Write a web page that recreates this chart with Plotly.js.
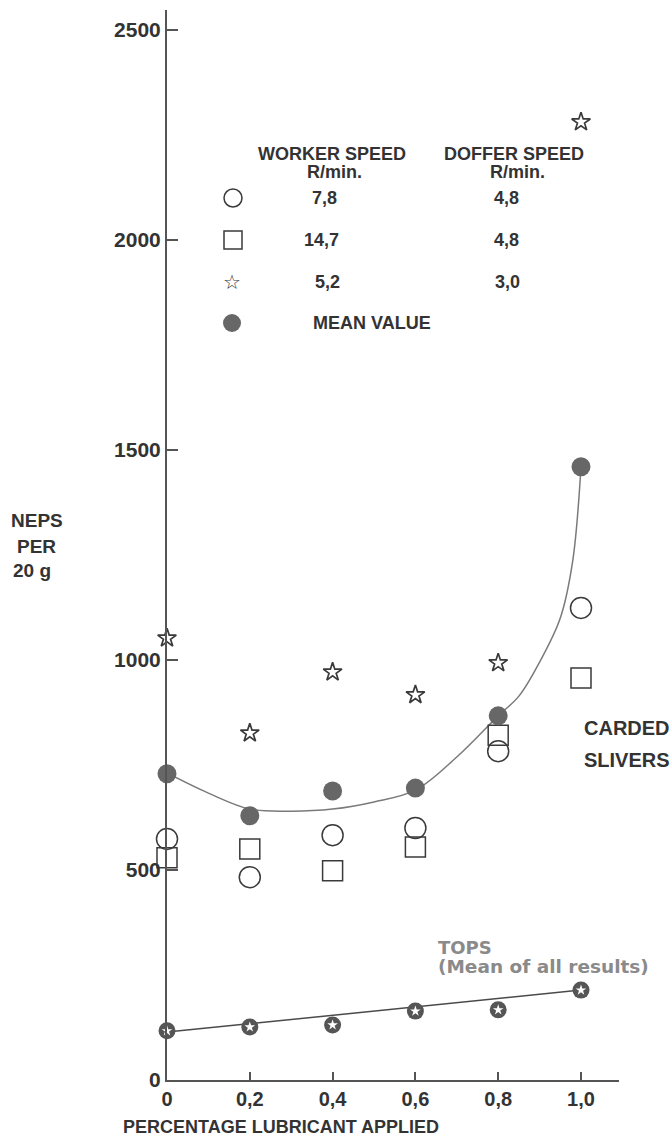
<!DOCTYPE html>
<html>
<head>
<meta charset="utf-8">
<script src="https://cdn.plot.ly/plotly-3.0.1.min.js"></script>
<style>
html,body{margin:0;padding:0;background:#fff;}
#chart{width:672px;height:1143px;}
</style>
</head>
<body>
<div id="chart"></div>
<script>
// ---------- data ----------
const lubricant = [0, 0.2, 0.4, 0.6, 0.8, 1.0];
const xTickLabels = ['0', '0,2', '0,4', '0,6', '0,8', '1,0'];
const yTickVals = [0, 500, 1000, 1500, 2000, 2500];
const yTickLabels = ['0', '500', '1000', '1500', '2000', '2500'];

// Worker 7,8 / Doffer 4,8  (open circles)
const nepsWorker78 = [574, 483, 583, 600, 783, 1124];
// Worker 14,7 / Doffer 4,8 (open squares)
const nepsWorker147 = [529, 550, 498, 555, 821, 957];
// Worker 5,2 / Doffer 3,0 (stars)
const nepsWorker52 = [1052, 826, 971, 917, 993, 2281];
// Mean value (filled circles)
const nepsMean = [729, 629, 688, 695, 867, 1460];

// Hand-drawn fitted curve through the mean values
const meanCurveX = [0, 0.1, 0.2, 0.3, 0.4, 0.5, 0.6, 0.7, 0.8, 0.85, 0.9, 0.95, 0.98, 1.0];
const meanCurveY = [731, 683, 645, 640, 645, 662, 690, 769, 867, 914, 995, 1100, 1236, 1460];

// Tops (mean of all results)
const nepsTops = [117, 126, 131, 164, 167, 214];
const topsLineX = [0, 1.0];
const topsLineY = [114, 214];

// legend table texts
const legendHeader = ['WORKER SPEED', 'DOFFER SPEED'];
const legendUnits = ['R/min.', 'R/min.'];
const workerSpeeds = ['7,8', '14,7', '5,2'];
const dofferSpeeds = ['4,8', '4,8', '3,0'];

// ---------- layout geometry ----------
const W = 672, H = 1143;
const mL = 167, mR = 53, mT = 10, mB = 63;
const plotW = W - mL - mR, plotH = H - mT - mB;
const PX_PER_UNIT_Y = 0.42;
const PX_PER_UNIT_X = 414;
function px(x) { return (x - mL) / plotW; }          // pixel -> paper x
function py(y) { return (H - mB - y) / plotH; }      // pixel -> paper y

const FONT = '"Liberation Sans", Arial, Helvetica, sans-serif';
const WIDE = '"DejaVu Sans", Verdana, sans-serif';
const DARK = '#333333';
const MARK = '#3a3a3a';

const traces = [
  {
    x: meanCurveX, y: meanCurveY, mode: 'lines', type: 'scatter',
    line: {color: '#7a7a7a', width: 1.5, shape: 'spline', smoothing: 1},
    hoverinfo: 'skip', showlegend: false, cliponaxis: false
  },
  {
    x: topsLineX, y: topsLineY, mode: 'lines', type: 'scatter',
    line: {color: '#4a4a4a', width: 1.5},
    hoverinfo: 'skip', showlegend: false, cliponaxis: false
  },
  {
    x: lubricant, y: nepsWorker78, mode: 'markers', type: 'scatter', name: '7,8 / 4,8',
    marker: {symbol: 'circle-open', size: 21, color: MARK, line: {width: 1.5, color: MARK}},
    showlegend: false, cliponaxis: false
  },
  {
    x: lubricant, y: nepsWorker147, mode: 'markers', type: 'scatter', name: '14,7 / 4,8',
    marker: {symbol: 'square-open', size: 20, color: MARK, line: {width: 1.5, color: MARK}},
    showlegend: false, cliponaxis: false
  },
  {
    x: lubricant, y: nepsWorker52, mode: 'markers', type: 'scatter', name: '5,2 / 3,0',
    marker: {symbol: 'star-open', size: 14, color: MARK, line: {width: 1.7, color: MARK}},
    showlegend: false, cliponaxis: false
  },
  {
    x: lubricant, y: nepsMean, mode: 'markers', type: 'scatter', name: 'Mean value',
    marker: {symbol: 'circle', size: 19, color: '#676767', line: {width: 0}},
    showlegend: false, cliponaxis: false
  },
  {
    x: lubricant, y: nepsTops, mode: 'markers', type: 'scatter', name: 'Tops',
    marker: {symbol: 'circle', size: 17, color: '#555555', line: {width: 0}},
    showlegend: false, cliponaxis: false
  },
  {
    x: lubricant, y: nepsTops, mode: 'markers', type: 'scatter', name: 'Tops',
    marker: {symbol: 'star', size: 8, color: '#ffffff', line: {width: 0}},
    showlegend: false, cliponaxis: false, hoverinfo: 'skip'
  }
];

function txt(text, x, y, opts) {
  opts = opts || {};
  return {
    text: text, xref: 'paper', yref: 'paper', x: px(x), y: py(y),
    xanchor: opts.xanchor || 'center', yanchor: 'middle', showarrow: false,
    font: {family: opts.family || FONT, size: opts.size || 18, color: opts.color || DARK,
           weight: opts.weight || 'bold'}
  };
}

const rowY = [198, 240, 282, 323];
const annotations = [
  txt(legendHeader[0], 332, 154),
  txt(legendHeader[1], 514, 154),
  txt(legendUnits[0], 334, 172),
  txt(legendUnits[1], 517, 172),
  txt(workerSpeeds[0], 324, rowY[0]),
  txt(dofferSpeeds[0], 506, rowY[0]),
  txt(workerSpeeds[1], 321, rowY[1]),
  txt(dofferSpeeds[1], 506, rowY[1]),
  txt(workerSpeeds[2], 327, rowY[2]),
  txt(dofferSpeeds[2], 507, rowY[2]),
  txt('MEAN VALUE', 372, rowY[3]),
  txt('☆', 232, rowY[2], {size: 20, family: WIDE, color: MARK, weight: 'normal'}),
  txt('CARDED', 582, 728, {xanchor: 'left', size: 20}),
  txt('SLIVERS', 582, 760, {xanchor: 'left', size: 20}),
  txt('TOPS', 436, 947, {xanchor: 'left', size: 18, color: '#8a8a8a', family: WIDE}),
  txt('(Mean of all results)', 436, 966, {xanchor: 'left', size: 18.5, color: '#8a8a8a', family: WIDE}),
  txt('NEPS', 37, 520, {size: 19}),
  txt('PER', 36, 546, {size: 19}),
  txt('20 g', 11, 570, {xanchor: 'left', size: 19}),
  txt('PERCENTAGE LUBRICANT APPLIED', 281, 1127, {size: 18})
];

const shapes = [
  {type: 'circle', xref: 'paper', yref: 'paper', xsizemode: 'pixel', ysizemode: 'pixel',
   xanchor: px(233), yanchor: py(rowY[0]), x0: -9, x1: 9, y0: -9, y1: 9,
   line: {color: MARK, width: 1.5}, fillcolor: 'rgba(0,0,0,0)'},
  {type: 'rect', xref: 'paper', yref: 'paper', xsizemode: 'pixel', ysizemode: 'pixel',
   xanchor: px(233), yanchor: py(rowY[1]), x0: -9, x1: 9, y0: -9, y1: 9,
   line: {color: MARK, width: 1.5}, fillcolor: 'rgba(0,0,0,0)'},
  {type: 'circle', xref: 'paper', yref: 'paper', xsizemode: 'pixel', ysizemode: 'pixel',
   xanchor: px(232), yanchor: py(rowY[3]), x0: -9, x1: 9, y0: -9, y1: 9,
   line: {width: 0}, fillcolor: '#676767'}
];

const layout = {
  width: W, height: H,
  margin: {l: mL, r: mR, t: mT, b: mB, pad: 0},
  paper_bgcolor: '#ffffff', plot_bgcolor: '#ffffff',
  showlegend: false,
  font: {family: FONT, color: DARK},
  xaxis: {
    range: [0, plotW / PX_PER_UNIT_X],
    tickvals: lubricant, ticktext: xTickLabels,
    showgrid: false, zeroline: false, showline: true,
    linecolor: '#555', linewidth: 2,
    ticks: 'inside', ticklen: 8, tickwidth: 2, tickcolor: '#555',
    tickfont: {family: FONT, size: 20, color: DARK, weight: 'bold'},
    fixedrange: true
  },
  yaxis: {
    range: [0, plotH / PX_PER_UNIT_Y],
    tickvals: yTickVals, ticktext: yTickLabels,
    showgrid: false, zeroline: false, showline: true,
    linecolor: '#555', linewidth: 2,
    ticks: 'inside', ticklen: 11, tickwidth: 2, tickcolor: '#555',
    tickfont: {family: FONT, size: 21, color: DARK, weight: 'bold'},
    fixedrange: true
  },
  annotations: annotations,
  shapes: shapes
};

Plotly.newPlot('chart', traces, layout, {staticPlot: true, displayModeBar: false});
</script>
</body>
</html>
